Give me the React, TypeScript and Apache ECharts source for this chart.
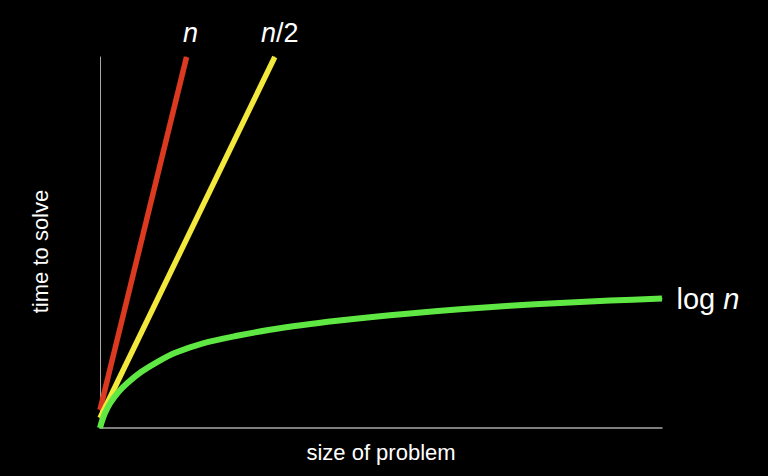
import React, { useEffect, useRef } from "react";
import * as echarts from "echarts";

// size of problem (x, 0..100) and time to solve (y, 0..100)
const linearX = [0, 15.4];
const linearY = [4.9, 100];
const halfX = [0, 31.1];
const halfY = [2.7, 100];
const logX = [0, 0.36, 0.89, 1.78, 3.2, 4.98, 7.3, 10.32, 13.52, 18.33, 24.38, 30.25, 36.12, 42.17, 48.04, 55.16, 64.06, 72.95, 81.85, 90.75, 100];
const logY = [0, 1.89, 4.04, 6.6, 9.57, 12.26, 15.09, 17.92, 20.35, 22.83, 24.85, 26.47, 27.76, 28.89, 29.84, 30.89, 31.99, 32.94, 33.72, 34.34, 34.88];
const seriesNames = ["n", "n/2", "log n"];
const axisNames = ["size of problem", "time to solve"];

const FONT = "'Liberation Sans', Arial, Helvetica, sans-serif";

function toPoints(xs: number[], ys: number[], label: any) {
  return xs.map((x, i) =>
    i === xs.length - 1 ? { value: [x, ys[i]], label } : { value: [x, ys[i]] }
  );
}

export default function App() {
  const ref = useRef<HTMLDivElement>(null);
  useEffect(() => {
    document.body.style.margin = "0";
    document.body.style.background = "#000";
    const chart = echarts.init(ref.current!, null, { renderer: "svg" });
    const italic = { fontStyle: "italic", fontFamily: FONT, fontSize: 27, color: "#fff" };
    const upright = { fontStyle: "normal", fontFamily: FONT, fontSize: 27, color: "#fff" };
    const topLabel = (text: string, dx: number) => ({
      show: true,
      position: "top",
      distance: 10,
      offset: [dx, 0],
      formatter: text,
      rich: { i: italic, u: upright },
    });
    chart.setOption({
      animation: false,
      backgroundColor: "#000",
      grid: { left: 100, right: 106, top: 57, bottom: 48 },
      xAxis: {
        type: "value",
        min: 0,
        max: 100,
        name: axisNames[0],
        nameLocation: "middle",
        nameGap: 13,
        nameTextStyle: { color: "#fff", fontSize: 22, fontFamily: FONT },
        axisLine: { show: true, lineStyle: { color: "#a8a8a8", width: 1.5 } },
        axisTick: { show: false },
        axisLabel: { show: false },
        splitLine: { show: false },
      },
      yAxis: {
        type: "value",
        min: 0,
        max: 100,
        name: axisNames[1],
        nameLocation: "middle",
        nameGap: 49,
        nameRotate: 90,
        nameTextStyle: { color: "#fff", fontSize: 22, fontFamily: FONT, padding: [0, 18, 0, 0] },
        axisLine: { show: true, lineStyle: { color: "#a8a8a8", width: 1 } },
        axisTick: { show: false },
        axisLabel: { show: false },
        splitLine: { show: false },
      },
      series: [
        {
          name: seriesNames[0],
          type: "line",
          symbol: "circle",
          symbolSize: 1,
          itemStyle: { color: "#dc3a20" },
          lineStyle: { color: "#dc3a20", width: 5.5 },
          data: toPoints(linearX, linearY, topLabel("{i|n}", 4)),
        },
        {
          name: seriesNames[1],
          type: "line",
          symbol: "circle",
          symbolSize: 1,
          itemStyle: { color: "#f3e83c" },
          lineStyle: { color: "#f3e83c", width: 5.5 },
          data: toPoints(halfX, halfY, topLabel("{i|n}{u|/2}", 5)),
        },
        {
          name: seriesNames[2],
          type: "line",
          symbol: "circle",
          symbolSize: 1,
          smooth: 0.3,
          itemStyle: { color: "#5fe843" },
          lineStyle: { color: "#5fe843", width: 6 },
          data: toPoints(logX, logY, {
            show: true,
            position: "right",
            distance: 14,
            formatter: "{u|log\u00a0}{i|n}",
            rich: {
              i: { ...italic, fontSize: 29 },
              u: { ...upright, fontSize: 29 },
            },
          }),
        },
      ],
    });
    return () => chart.dispose();
  }, []);
  return (
    <div
      ref={ref}
      style={{ position: "fixed", left: 0, top: 0, width: 768, height: 476, background: "#000" }}
    />
  );
}
